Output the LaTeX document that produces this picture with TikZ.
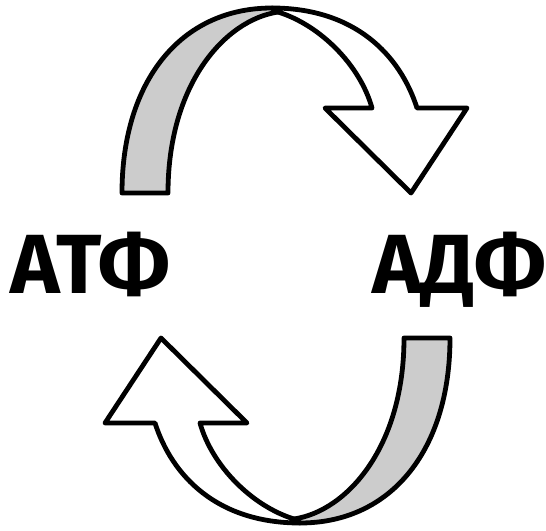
\documentclass[tikz,border=0pt]{standalone}
\usepackage{fontspec}
\setmainfont{Fira Sans}
\begin{document}
\begin{tikzpicture}[x=0.5pt,y=-0.5pt,
  ribbon/.style={draw=black,line width=2.4pt,line join=round},
  backface/.style={ribbon,fill=black!20},
  frontface/.style={ribbon,fill=white},
  label/.style={font=\fontsize{42}{42}\selectfont\bfseries,inner sep=0pt,anchor=base}]
\useasboundingbox (0,0) rectangle (546,530);
\newcommand\cyclearrowshape{%
  \path[backface] (122,193) .. controls (122,82) and (180,8) .. (272,8)
     -- (278,12) .. controls (225,20) and (168,84) .. (168,193) -- cycle;
  \path[frontface] (272,8) .. controls (355,8) and (400,55) .. (417,108)
     -- (467,108) -- (411,193) -- (325,108) -- (372,108)
     .. controls (360,65) and (320,25) .. (278,12) -- cycle;}
\cyclearrowshape
\begin{scope}[rotate around={180:(286,265.5)}]
\cyclearrowshape
\end{scope}
\node[label] (atp) at (90.5,293) {АТФ};
\node[label] (adp) at (459.5,293) {АДФ};
\end{tikzpicture}
\end{document}
